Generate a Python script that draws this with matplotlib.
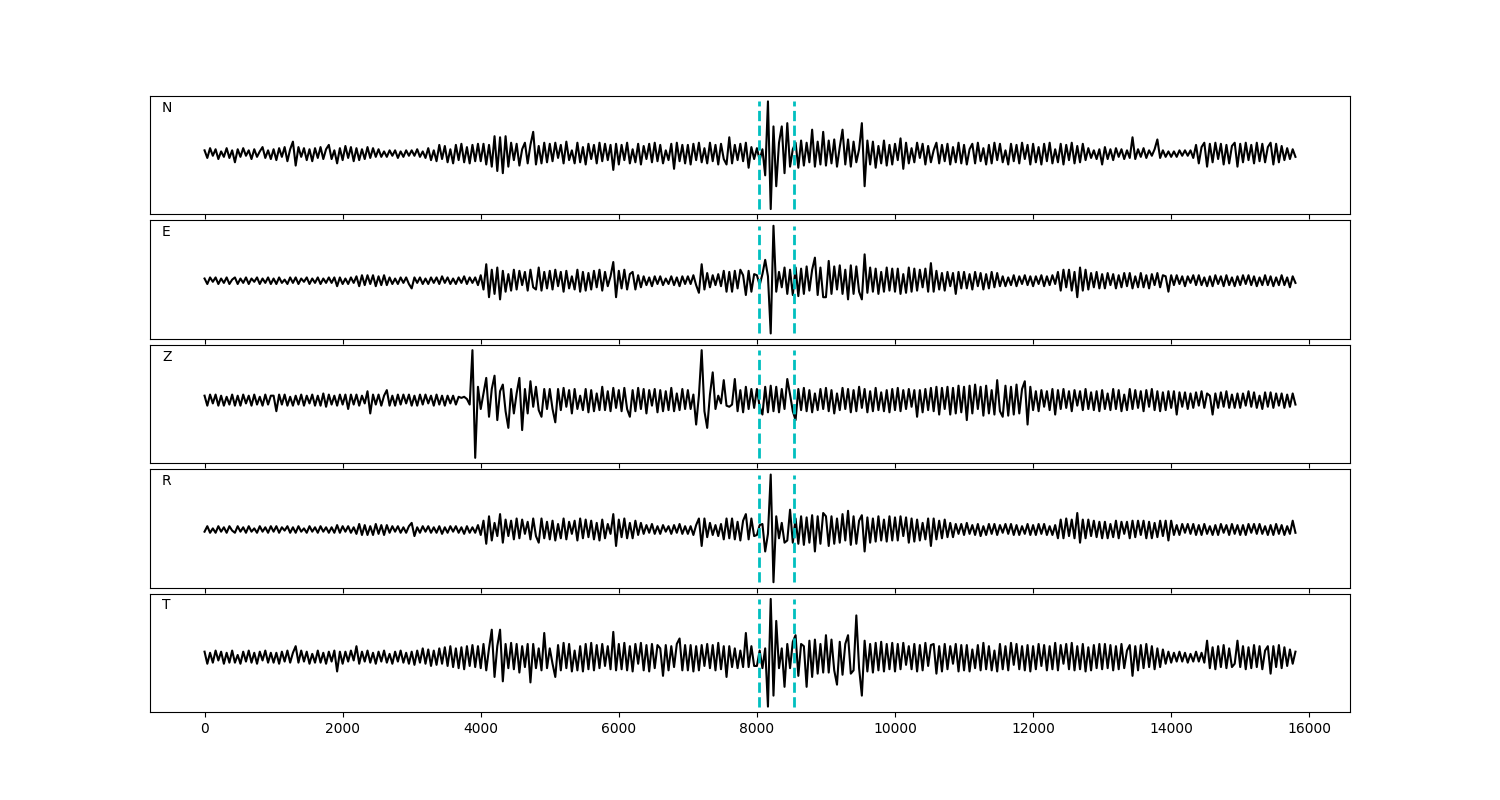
#!/usr/bin/env python3
"""
Five-component seismogram panel plot (N, E, Z, R, T) with two picked
arrival markers. Trace values were read off the reference picture at
one value every 40 samples.
"""

import numpy as np
import matplotlib
matplotlib.use("Agg")
import matplotlib.pyplot as plt

DT = 40

# picked arrival times (samples)
PICKS = [8030, 8540]

COMPONENTS = ["N", "E", "Z", "R", "T"]

# one row = 1000 samples (25 values), last row 15000..15800 (21 values)
N_ROWS = [
    [3, -4, 5, -2, 4, -5, 2, -3, 5, -4, 3, -8, 4, -3, 5, -2, 3, -5, 4, -3, 2, 6, -4, 3, -5],
    [4, -6, 5, -3, 6, -7, 4, 11, -11, 6, -3, 5, -6, 4, -7, 5, -4, 6, -5, 4, 8, -5, 3, -9, 5],
    [-6, 7, -4, 6, -7, 5, -6, 4, -5, 6, -4, 5, -3, 4, -3, 2, -3, 3, -2, 3, -4, 2, -3, 3, -2],
    [3, -2, 4, -3, 2, -4, 5, -6, 3, -7, 8, -5, 7, -8, 4, -9, 8, -6, 9, -8, 6, -9, 8, -7, 9],
    [-7, 9, -10, 8, -12, 16, -16, 15, -18, 16, -12, 10, -6, 9, -11, 4, 10, -9, 8, 20, -10, 7, -9, 10, -8],
    [9, -7, 10, -4, 8, -9, 11, -6, 3, -9, 10, -8, 6, -10, 9, -5, 8, -9, 10, -7, 9, -6, 8, -15, 9],
    [-10, 8, -6, 10, -9, 4, -8, 9, -10, 7, -5, 9, -8, 10, -7, 8, -9, 3, -6, 9, -14, 10, -7, 8, -9],
    [8, -10, 9, -6, 10, -8, 5, -9, 10, -7, 8, -10, 9, -5, -10, 15, -9, 8, -6, 9, -7, 10, -13, 6, -5],
    [5, -6, 4, -20, 48, -51, 25, -30, 10, 25, -18, 28, -12, 4, 10, -13, 12, -11, 10, -8, 22, -12, 11, -10, 20],
    [-11, 12, -9, 13, -12, 6, 22, -10, 13, -12, 11, -8, 4, 28, -30, 12, -10, 11, -13, 7, -9, 12, -11, 8, -10],
    [9, -6, 14, -14, 10, -9, 5, -8, 10, -4, 9, -10, 7, -8, 3, 10, -9, 8, -7, 9, -10, 6, -8, 10, -9],
    [8, -10, 4, 9, -9, 10, -7, 5, -10, 8, -9, 10, -6, 9, -8, 3, -10, 9, -7, 8, -9, 10, -5, 8, -10],
    [9, -8, 6, -10, 9, -7, 10, -9, 4, -8, 9, -10, 8, -6, 10, -9, 7, -8, 9, -6, 5, -4, 3, -5, 4],
    [-10, 6, -5, 4, -6, 5, -3, 4, -5, 3, -4, 15, -5, 4, -3, 5, -4, 3, -2, 4, 13, -4, 3, -3, 2],
    [-3, 2, -3, 3, -2, 3, -2, 3, -4, 8, -9, 6, 10, -12, 9, -8, 10, -5, 9, -10, 8, -9, 7, 10, -12],
    [9, -8, 10, -6, 8, -9, 10, -7, 9, -8, 6, 10, -10, 9, -8, 7, -6, 5, -5, 4, -3],
]

E_ROWS = [
    [2, -3, 3, -1, 3, -3, 2, -2, 3, -3, 1, 3, -3, 2, -2, 3, -3, 2, -1, 3, -3, 2, -2, 3, -3],
    [2, -3, 3, -2, 1, -3, 3, -2, 3, -3, 2, -1, 3, -3, 2, -2, 3, -3, 2, -2, 3, -2, 3, -5, 3],
    [-3, 2, -3, 3, -2, 4, -5, 5, -4, 5, -3, 5, -5, 4, -4, 5, -4, 3, -3, 2, -3, 3, -2, 3, -3],
    [-7, 3, -2, 3, -3, 2, -3, 3, -2, 3, -3, 4, -2, 3, -3, 2, -3, 3, -2, 4, -3, 3, -2, 3, -4],
    [5, -8, 15, -15, 10, -12, 12, -17, 9, -10, 6, -9, 10, -8, 9, -4, 8, -9, 10, -6, -8, 12, -9, 8, -7],
    [9, -8, 10, -5, 8, -10, 9, -7, 4, -8, 10, -10, 8, -9, 7, -8, 9, -6, 10, -9, 8, -5, 4, 17, -15],
    [9, -7, 10, -8, 6, 8, -8, 5, -6, 4, -4, 3, -5, 4, -3, 4, -4, 2, -3, 4, -4, 3, -5, 4, -3],
    [4, -3, 5, -4, -11, 15, -8, 7, -6, 5, -4, 6, -5, 9, -10, 8, -10, 9, -7, 10, 5, -13, 9, -10, 6],
    [5, -4, 6, 19, 4, -48, 50, -10, 8, -6, 12, -12, 10, -13, 12, -14, 11, -12, 13, -9, 10, 21, -13, 12, -15],
    [-15, 18, -12, 13, -8, 14, -12, 10, -17, 14, -12, 13, -10, -17, 24, -11, 12, -10, 11, -12, 8, -10, 12, -9, 11],
    [-10, 11, -12, 6, -11, 12, -10, 11, -9, 10, -6, 11, -10, 16, -10, 9, -8, 7, -9, 8, -5, 7, -12, 8, -7],
    [8, -7, 6, -8, 8, -5, 7, -8, 6, -7, 8, -6, 7, -5, 4, -5, 3, -4, 5, -5, 4, -3, 5, -4, 4],
    [-5, 4, -3, 5, -5, 4, -4, 5, -3, 8, -9, 10, -6, 10, -9, 8, -15, 12, -9, 10, -8, 7, -6, 8, -7],
    [6, -7, 7, -4, 6, -7, 5, -6, 7, -5, 7, -7, 4, -6, 7, -6, 5, -7, 6, -4, 7, -6, 5, 4, -10],
    [5, -4, 5, -3, 4, -5, 4, -2, 5, -4, 5, -4, 3, -5, 4, -5, 5, -3, 4, -5, 5, -4, 3, -5, 4],
    [-4, 5, -3, 5, -4, 4, -5, 3, -4, 5, -4, 4, -5, 3, -4, 5, -4, 3, -6, 4, -2],
]

Z_ROWS = [
    [4, -5, 5, -3, 5, -5, 4, -5, 3, -4, 5, -5, 4, -5, 5, -3, 4, -5, 5, -4, 3, -5, 5, -4, 4],
    [4, -10, 5, -4, 5, -5, 3, -5, 4, -4, 5, -5, 4, -3, 5, -5, 4, -5, 6, -6, 5, -4, 4, -5, 5],
    [-4, 5, -8, 5, -4, 5, -5, 4, -3, 8, -12, 5, -4, 5, -5, 4, 9, -5, 4, -5, 5, -4, 5, -3, 5],
    [-5, 4, -5, 5, -4, 5, -3, 4, -5, 5, -4, 4, -5, 4, -3, 4, -4, 3, 2, 3, 1, -4, 45, -52, 12],
    [-8, 6, 20, -15, 10, 22, -18, 8, 14, -10, -25, 10, -12, 6, 20, -27, 10, -12, 17, -6, 12, -9, -15, 10, -8],
    [10, -8, -20, 10, -9, 11, -6, 9, -12, 10, -8, 4, -9, 10, -11, 9, -10, 6, -9, 12, -9, 8, -10, 11, -7],
    [9, -10, 11, -8, -15, 9, -10, 11, -8, 10, -12, 9, -5, 10, -11, 9, -10, 8, -9, 11, -10, 6, -9, 10, -8],
    [9, -8, 5, -22, 4, 45, -10, -25, 5, 25, -8, 4, -3, 18, -5, -6, -4, 19, -10, 9, -11, 12, -8, 10, -7],
    [10, -6, -13, 12, -11, 13, -10, 12, -11, 10, -8, 19, 5, -10, -18, 10, -9, 11, -10, 9, -11, 6, -9, 10, -8],
    [11, -10, 9, -12, 6, -9, 11, -8, 10, -11, 9, -10, 12, -7, 10, -11, 8, -10, 11, -9, 7, -10, 9, -11, 10],
    [-9, 11, -10, 9, -8, 10, -6, 9, -15, 9, -11, 10, -9, 11, -10, 12, -13, 11, -8, 12, -13, 11, -12, 13, -11],
    [12, -18, 13, -12, 14, -8, 12, -14, 13, -12, 9, -13, 18, -10, -15, 13, -14, 12, -13, 14, -12, 10, 17, -22, 12],
    [-9, 8, -10, 9, -6, 8, -9, 10, -13, 9, -8, 10, -7, 8, -10, 9, -5, 8, -9, 10, -8, 7, -9, 8, -10],
    [9, -8, 6, -9, 10, -8, 9, -10, 5, -9, 10, -8, 9, -7, 8, -10, 9, -6, 10, -9, 8, -10, 7, -9, 8],
    [-7, 8, -13, 7, -6, 7, -8, 6, -7, 7, -5, 8, -7, 6, 4, -13, 6, -7, 7, -6, 8, -7, 5, -7, 6],
    [-7, 6, -5, 8, -6, 7, -7, 4, -8, 7, -6, 7, -7, 6, -5, 6, -7, 5, -6, 6, -4],
]

R_ROWS = [
    [-2, 3, -3, 1, -3, 3, -2, 2, -3, 3, -1, -3, 3, -2, 2, -3, 3, -2, 1, -3, 3, -2, 2, -3, 3],
    [-2, 3, -3, 2, -1, 3, -3, 2, -3, 3, -2, 1, -3, 3, -2, 2, -3, 3, -2, 2, -3, 2, -3, 4, -3],
    [3, -2, 3, -3, 2, -4, 5, -5, 4, -5, 3, -5, 5, -4, 4, -5, 4, -3, 3, -2, 3, -3, 2, -3, 3],
    [6, -6, 2, -3, 3, -2, 3, -3, 2, -3, 3, -4, 2, -3, 3, -2, 3, -3, 2, -4, 3, -3, 2, -3, 4],
    [-5, 8, -13, 12, -10, 6, -6, 14, -12, 9, -6, 8, -9, 10, -8, 9, -4, 7, -9, 10, -6, -12, 10, -8, 7],
    [-9, 8, -10, 5, -8, 10, -9, 7, -4, 8, -10, 10, -8, 9, -7, 8, -9, 6, -10, 9, -8, 5, -4, 14, -15],
    [9, -7, 10, -8, 6, -8, 8, -5, 6, -4, 4, -3, 5, -4, 3, -4, 4, -2, 3, -4, 4, -3, 5, -4, 3],
    [-4, 3, -5, 4, 10, -15, 10, -7, 6, -5, 4, -6, 5, -9, 10, -8, 10, -9, 7, -10, 8, 14, -9, 10, -6],
    [-5, 4, 5, -20, -4, 50, -48, 12, -8, 6, -12, -10, 18, -12, 10, -13, 12, -14, 11, -12, 13, -20, 12, -13, 15],
    [12, -15, 12, -13, 10, -12, 14, -10, 17, -14, 12, -13, 8, 13, -20, 11, -12, 10, -11, 12, -10, 9, -11, 12, -10],
    [11, -10, 12, -6, 11, -12, 10, -11, 9, -10, 6, -9, 10, -15, 10, -9, 8, -8, 9, -7, 6, -7, 5, -4, 5],
    [-5, 6, -4, 4, -5, 5, -6, 3, -5, 5, -4, 5, -5, 4, -3, 5, -4, 5, -5, 4, -5, 3, -4, 5, -5],
    [4, -5, 5, -4, 5, -5, 3, -5, 4, -8, 9, -8, 10, -6, 9, -8, 15, -12, 9, -8, 9, -6, 8, -7, 7],
    [-8, 7, -8, 5, -7, 8, -8, 7, -4, 7, -8, 8, -7, 8, -5, 8, -8, 7, -8, 6, -7, 8, -6, 8, -10],
    [8, -5, 4, -5, 5, -3, 5, -4, 5, -5, 4, -5, 5, -4, 3, -5, 4, -5, 5, -3, 4, -5, 5, -4, 4],
    [-5, 4, -5, 5, -3, 5, -4, 5, -4, 3, -5, 4, -5, 5, -4, 4, -5, 3, -4, 8, -3],
]

T_ROWS = [
    [5, -6, 4, -5, 6, -3, 5, -6, 4, -5, 6, -5, 2, -6, 5, -4, 6, -5, 4, -6, 5, -3, 6, -5, 4],
    [-5, 4, -6, 5, -4, 6, -5, 4, 10, -5, 6, -4, 5, -6, 3, -5, 6, -5, 4, -6, 5, -4, 6, -13, 5],
    [-6, 5, -4, 6, -3, 10, -6, 5, -4, 6, -5, 4, -6, 5, -4, 6, -5, 3, -6, 5, -4, 6, -5, 4, -6],
    [5, -7, 6, -5, 8, -6, 7, -8, 6, -7, 8, -6, 9, -8, 10, -9, 8, -10, 9, -11, 10, -8, 11, -9, 10],
    [-10, 12, -12, 8, 25, -18, 10, 25, -22, 12, -10, 13, -11, 12, -14, 10, -9, 12, -23, 12, -10, 8, -12, 22, -10],
    [8, -6, -18, 11, -12, 13, -10, 12, -13, 6, -12, 10, -13, 12, -11, 13, -12, 11, -10, 12, -8, 10, -11, 23, -12],
    [12, -11, 13, -12, 10, -13, 12, -6, 13, -12, 11, -13, 12, -10, 11, 8, -17, 11, -12, 10, -9, 12, 17, -12, 11],
    [-12, 11, -13, 10, -12, 11, -8, 12, -10, 11, -12, 13, -11, 10, -18, 10, -9, 8, -10, 6, -9, 22, -9, 10, -8],
    [-8, 6, -10, 8, -45, 53, -35, 33, -10, 8, -27, 12, -10, 14, 20, -17, 12, 10, -27, 15, -18, 16, -15, 12, -14],
    [20, -14, 16, -12, -25, 14, -16, 12, 20, -15, -12, 38, -10, -35, 15, -13, 12, -14, 13, -12, 14, -13, 12, -11, 13],
    [-13, 12, -11, 13, -7, 10, -11, 12, -13, 11, -12, 13, -8, 11, 12, -15, 10, -13, 12, -11, 10, -6, 12, -13, 11],
    [-12, 11, -13, 7, -10, 11, -12, 13, -11, 10, -12, 6, -13, 12, -11, 10, -12, 13, -7, 12, -11, 10, -12, 11, -13],
    [10, -11, 12, -8, 11, -12, 10, -11, 13, -12, 11, -6, 12, -11, 13, -12, 10, -11, 12, -13, 9, -12, 11, -10, 12],
    [-11, 12, -10, 11, -12, 10, -11, 12, -10, 6, 11, -17, 10, -12, 11, -10, 12, -9, 10, -11, 8, -9, 7, -6, 5],
    [-5, 4, -4, 5, -4, 4, -5, 3, -4, 5, -4, 4, -5, 15, -10, 9, -11, 10, -9, 11, -10, 8, -9, -6, 15],
    [-9, 10, -11, 9, -10, 11, -9, 10, -11, 6, 10, -15, 10, -9, 11, -10, 9, -8, 7, -6, 5],
]


def flatten(rows):
    """Join the per-1000-sample rows into one trace"""
    return np.array([v for row in rows for v in row], dtype=float)


def main():
    traces = [flatten(r) for r in (N_ROWS, E_ROWS, Z_ROWS, R_ROWS, T_ROWS)]

    fig, axes = plt.subplots(5, 1, figsize=(15, 8), dpi=100, sharex=True)
    fig.subplots_adjust(left=0.1, right=0.9, top=0.88, bottom=0.11, hspace=0.05)

    for ax, name, y in zip(axes, COMPONENTS, traces):
        t = np.arange(len(y)) * DT
        ax.plot(t, y, color="k", lw=1.5)
        ax.vlines(PICKS, y.min(), y.max(), colors="c", linestyles="dashed", lw=2)
        ax.set_yticks([])
        ax.text(0.01, 0.9, name, transform=ax.transAxes, va="center", fontsize=10)

    fig.savefig("out.png", dpi=100)


if __name__ == "__main__":
    main()
